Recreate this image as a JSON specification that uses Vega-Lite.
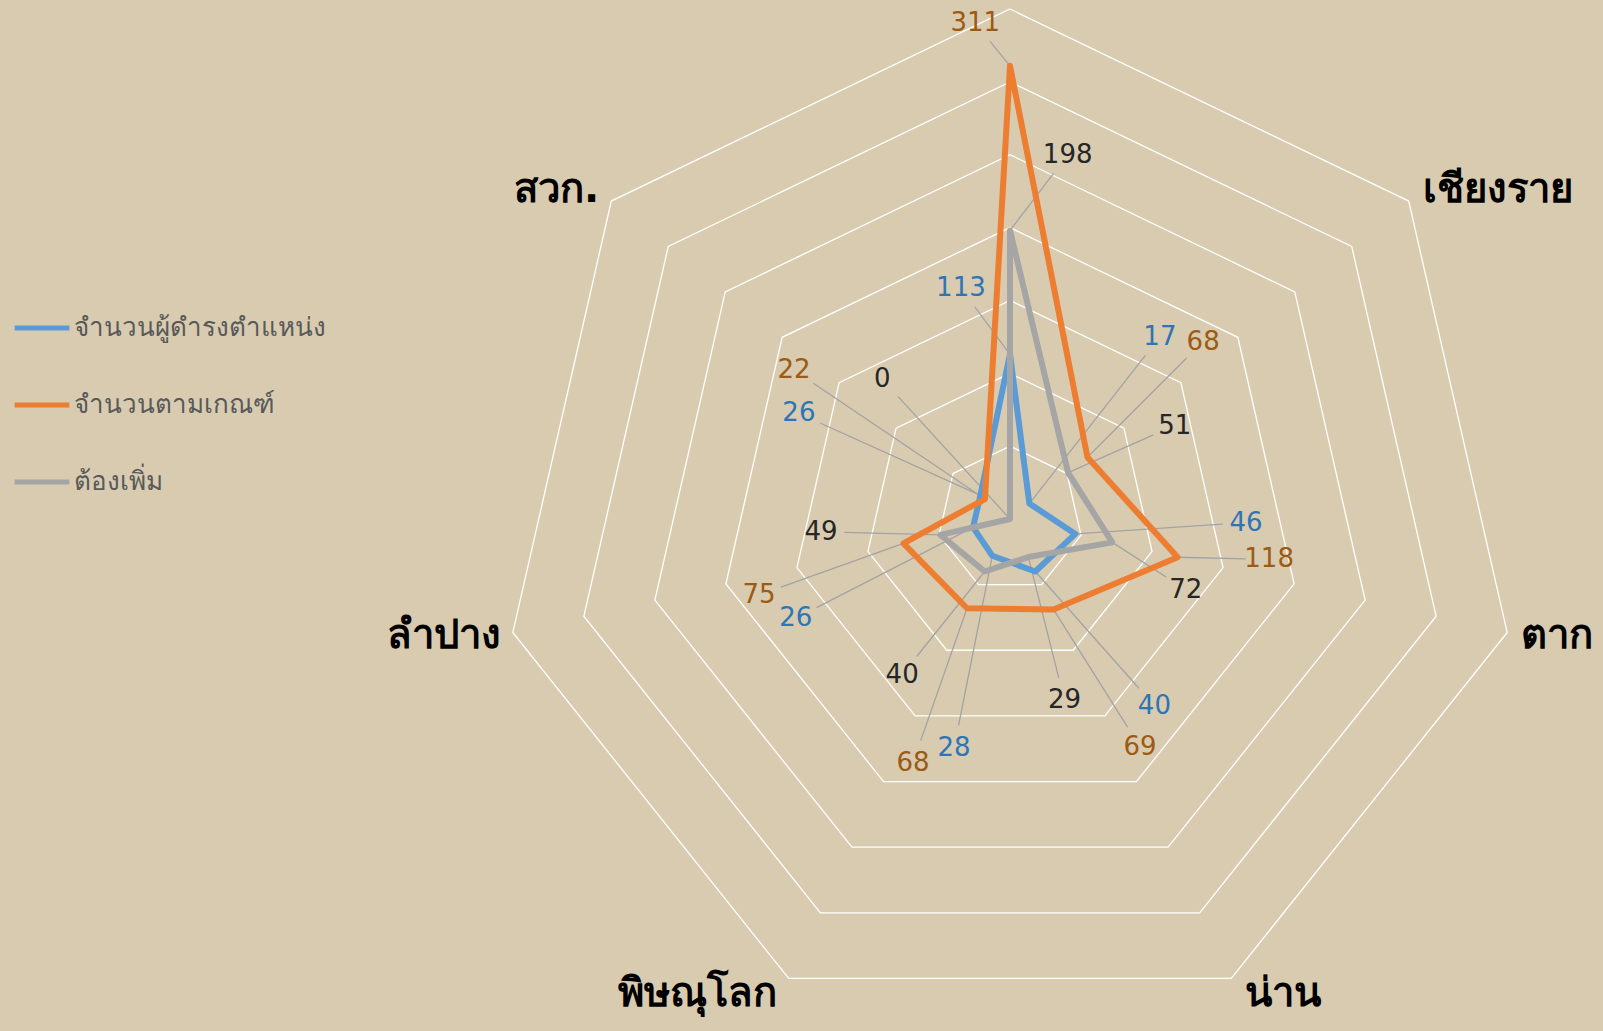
{
  "$schema": "https://vega.github.io/schema/vega-lite/v6.json",
  "width": 1603,
  "height": 1031,
  "autosize": {"type": "none"},
  "padding": 0,
  "background": "#d8cbb0",
  "config": {"view": {"stroke": null}, "font": "Tahoma, 'DejaVu Sans', sans-serif"},
  "datasets": {
    "axes": [
      {"cat": "ส่วนกลาง", "idx": 0},
      {"cat": "เชียงราย", "idx": 1},
      {"cat": "ตาก", "idx": 2},
      {"cat": "น่าน", "idx": 3},
      {"cat": "พิษณุโลก", "idx": 4},
      {"cat": "ลำปาง", "idx": 5},
      {"cat": "สวก.", "idx": 6}
    ],
    "vals": [
      {"cat": "ส่วนกลาง", "series": "จำนวนผู้ดำรงตำแหน่ง", "value": 113},
      {"cat": "เชียงราย", "series": "จำนวนผู้ดำรงตำแหน่ง", "value": 17},
      {"cat": "ตาก", "series": "จำนวนผู้ดำรงตำแหน่ง", "value": 46},
      {"cat": "น่าน", "series": "จำนวนผู้ดำรงตำแหน่ง", "value": 40},
      {"cat": "พิษณุโลก", "series": "จำนวนผู้ดำรงตำแหน่ง", "value": 28},
      {"cat": "ลำปาง", "series": "จำนวนผู้ดำรงตำแหน่ง", "value": 26},
      {"cat": "สวก.", "series": "จำนวนผู้ดำรงตำแหน่ง", "value": 26},
      {"cat": "ส่วนกลาง", "series": "จำนวนตามเกณฑ์", "value": 311},
      {"cat": "เชียงราย", "series": "จำนวนตามเกณฑ์", "value": 68},
      {"cat": "ตาก", "series": "จำนวนตามเกณฑ์", "value": 118},
      {"cat": "น่าน", "series": "จำนวนตามเกณฑ์", "value": 69},
      {"cat": "พิษณุโลก", "series": "จำนวนตามเกณฑ์", "value": 68},
      {"cat": "ลำปาง", "series": "จำนวนตามเกณฑ์", "value": 75},
      {"cat": "สวก.", "series": "จำนวนตามเกณฑ์", "value": 22},
      {"cat": "ส่วนกลาง", "series": "ต้องเพิ่ม", "value": 198},
      {"cat": "เชียงราย", "series": "ต้องเพิ่ม", "value": 51},
      {"cat": "ตาก", "series": "ต้องเพิ่ม", "value": 72},
      {"cat": "น่าน", "series": "ต้องเพิ่ม", "value": 29},
      {"cat": "พิษณุโลก", "series": "ต้องเพิ่ม", "value": 40},
      {"cat": "ลำปาง", "series": "ต้องเพิ่ม", "value": 49},
      {"cat": "สวก.", "series": "ต้องเพิ่ม", "value": 0}
    ]
  },
  "resolve": {"scale": {"color": "independent"}},
  "layer": [
    {
      "data": {"name": "axes"},
      "transform": [
        {"calculate": "[50,100,150,200,250,300,350]", "as": "ring"},
        {"flatten": ["ring"]},
        {"calculate": "datum.idx*2*PI/7", "as": "a"},
        {"calculate": "datum.ring*sin(datum.a)", "as": "x"},
        {"calculate": "datum.ring*cos(datum.a)", "as": "y"}
      ],
      "mark": {"type": "line", "interpolate": "linear-closed", "color": "#ffffff", "strokeWidth": 1.3},
      "encoding": {
        "x": {"field": "x", "type": "quantitative", "scale": {"domain": [-693.2, 407.0], "nice": false, "zero": false}, "axis": null},
        "y": {"field": "y", "type": "quantitative", "scale": {"domain": [-351.4, 356.2], "nice": false, "zero": false}, "axis": null},
        "detail": {"field": "ring", "type": "nominal"},
        "order": {"field": "idx", "type": "quantitative"}
      }
    },
    {
      "data": {"name": "vals"},
      "transform": [
        {"lookup": "cat", "from": {"data": {"name": "axes"}, "key": "cat", "fields": ["idx"]}},
        {"calculate": "datum.idx*2*PI/7", "as": "a"},
        {"calculate": "datum.value*sin(datum.a)", "as": "x"},
        {"calculate": "datum.value*cos(datum.a)", "as": "y"},
        {"calculate": "datum.series == 'จำนวนผู้ดำรงตำแหน่ง' ? -12 : (datum.series == 'จำนวนตามเกณฑ์' ? -4 : 9)", "as": "off"},
        {"calculate": "datum.series == 'จำนวนผู้ดำรงตำแหน่ง' ? 162 : (datum.series == 'จำนวนตามเกณฑ์' ? 180 : 130)", "as": "base"},
        {"calculate": "datum.series == 'จำนวนผู้ดำรงตำแหน่ง' ? 40 : (datum.series == 'จำนวนตามเกณฑ์' ? 30 : 55)", "as": "add"},
        {"calculate": "max(datum.value + datum.add, datum.base)", "as": "lr"},
        {"calculate": "datum.a + datum.off*PI/180", "as": "la"},
        {"calculate": "datum.lr*sin(datum.la)", "as": "lx"},
        {"calculate": "datum.lr*cos(datum.la)", "as": "ly"},
        {"calculate": "sqrt(pow(datum.x-datum.lx,2)+pow(datum.y-datum.ly,2))", "as": "d"},
        {"calculate": "min(1, 16/max(datum.d, 0.001))", "as": "s"},
        {"calculate": "datum.lx + (datum.x-datum.lx)*datum.s", "as": "ex"},
        {"calculate": "datum.ly + (datum.y-datum.ly)*datum.s", "as": "ey"}
      ],
      "resolve": {"scale": {"color": "independent"}},
      "layer": [
        {
          "mark": {"type": "rule", "color": "#a3a3a3", "strokeWidth": 1.3},
          "encoding": {
            "x": {"field": "x", "type": "quantitative"},
            "y": {"field": "y", "type": "quantitative"},
            "x2": {"field": "ex"},
            "y2": {"field": "ey"}
          }
        },
        {
          "mark": {"type": "line", "interpolate": "linear-closed", "strokeWidth": 6, "strokeJoin": "round"},
          "encoding": {
            "x": {"field": "x", "type": "quantitative"},
            "y": {"field": "y", "type": "quantitative"},
            "order": {"field": "idx", "type": "quantitative"},
            "color": {
              "field": "series", "type": "nominal",
              "scale": {"domain": ["จำนวนผู้ดำรงตำแหน่ง", "จำนวนตามเกณฑ์", "ต้องเพิ่ม"], "range": ["#5B9BD5", "#ED7D31", "#A5A5A5"]},
              "legend": {
                "title": null, "orient": "none", "legendX": 12, "legendY": 298,
                "symbolType": "stroke", "symbolStrokeWidth": 5, "symbolSize": 3000,
                "labelFontSize": 26, "labelColor": "#595959", "labelOffset": 2,
                "rowPadding": 34, "labelLimit": 400
              }
            }
          }
        },
        {
          "mark": {"type": "text", "fontSize": 26, "align": "center", "baseline": "middle"},
          "encoding": {
            "x": {"field": "lx", "type": "quantitative"},
            "y": {"field": "ly", "type": "quantitative"},
            "text": {"field": "value", "type": "quantitative"},
            "color": {
              "field": "series", "type": "nominal",
              "scale": {"domain": ["จำนวนผู้ดำรงตำแหน่ง", "จำนวนตามเกณฑ์", "ต้องเพิ่ม"], "range": ["#2E75B6", "#9C5B14", "#262626"]},
              "legend": null
            }
          }
        }
      ]
    },
    {
      "data": {"name": "axes"},
      "transform": [
        {"calculate": "datum.idx*2*PI/7", "as": "a"},
        {"filter": "sin(datum.a) > 0.01"},
        {"calculate": "350*sin(datum.a)", "as": "x"},
        {"calculate": "362*cos(datum.a)", "as": "y"}
      ],
      "mark": {"type": "text", "fontSize": 40, "fontWeight": "bold", "color": "#000000", "align": "left", "baseline": "middle", "dx": 14},
      "encoding": {
        "x": {"field": "x", "type": "quantitative"},
        "y": {"field": "y", "type": "quantitative"},
        "text": {"field": "cat", "type": "nominal"}
      }
    },
    {
      "data": {"name": "axes"},
      "transform": [
        {"calculate": "datum.idx*2*PI/7", "as": "a"},
        {"filter": "sin(datum.a) < -0.01"},
        {"calculate": "350*sin(datum.a)", "as": "x"},
        {"calculate": "362*cos(datum.a)", "as": "y"}
      ],
      "mark": {"type": "text", "fontSize": 40, "fontWeight": "bold", "color": "#000000", "align": "right", "baseline": "middle", "dx": -12},
      "encoding": {
        "x": {"field": "x", "type": "quantitative"},
        "y": {"field": "y", "type": "quantitative"},
        "text": {"field": "cat", "type": "nominal"}
      }
    }
  ]
}
